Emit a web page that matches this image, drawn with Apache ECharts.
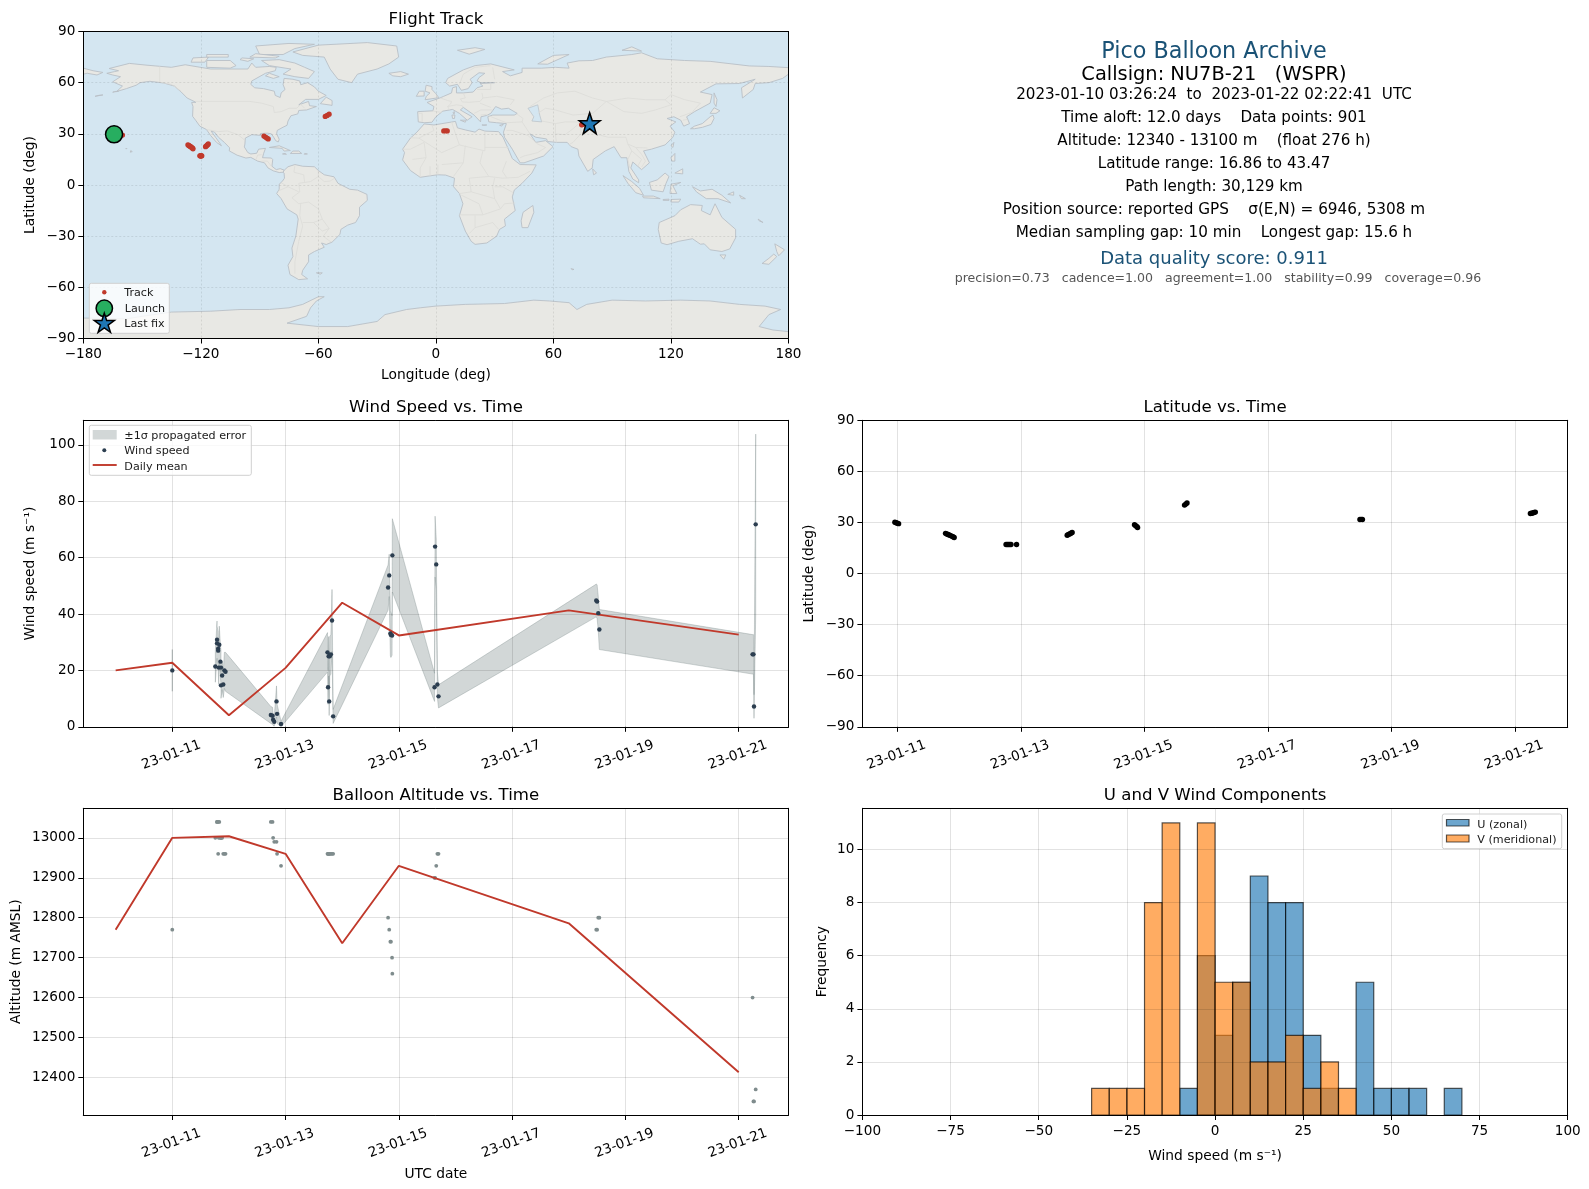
<!DOCTYPE html>
<html><head><meta charset="utf-8"><title>Pico Balloon Archive</title>
<style>html,body{margin:0;padding:0;background:#fff}#c{width:1589px;height:1189px}</style>
<script src="https://cdn.jsdelivr.net/npm/echarts@6/dist/echarts.min.js"></script></head>
<body><div id="c"></div>
<script>
// ---------- observations (day = day of January 2023) ----------
const windDays = [11.00,11.76,11.79,11.79,11.81,11.81,11.82,11.83,11.85,11.86,11.86,11.88,11.90,11.92,11.94,12.74,12.77,12.78,12.80,12.84,12.85,12.92,13.74,13.75,13.76,13.77,13.78,13.80,13.82,13.84,14.81,14.83,14.85,14.86,14.88,14.885,15.63,15.64,15.66,15.68,15.70,18.485,18.50,18.52,18.54,21.245,21.26,21.27,21.30];
const windSpeeds = [20.0,21.4,30.9,29.6,27.7,27.0,21.0,29.1,23.1,21.0,14.7,18.2,15.0,20.0,19.5,4.2,3.9,2.5,1.8,9.0,4.6,1.0,26.4,14.0,25.0,9.0,25.0,25.7,37.7,3.7,49.4,53.7,33.1,32.6,32.4,60.8,14.0,63.9,57.6,15.0,10.8,44.8,44.4,40.3,34.5,25.7,25.7,7.2,71.8];
const windSigmas = [7.4,5.6,6.6,6.0,6.2,6.2,6.0,6.6,5.8,6.0,4.6,5.0,4.6,6.4,6.9,3.0,3.0,2.0,1.6,5.5,3.4,1.0,7.0,6.0,7.0,5.0,7.0,7.0,11.0,2.5,8.0,7.5,8.0,8.0,7.0,13.0,5.0,10.8,9.0,4.5,4.1,5.8,6.0,6.0,7.1,7.0,7.0,4.2,32.0];
const altitudes = [12770,13000,13040,13040,13040,12960,13000,13040,13000,13000,13000,13000,12960,12960,12960,13040,13040,13000,12990,12990,12960,12930,12960,12960,12960,12960,12960,12960,12960,12960,12800,12770,12740,12740,12700,12660,12900,12900,12930,12960,12960,12770,12770,12800,12800,12600,12340,12340,12370];
const bandSegments = [[0,1],[1,49]];
const meanDays = [10,11,12,13,14,15,18,21];
const meanSpeeds = [20.0,22.7,4.1,20.9,44.0,32.4,41.3,32.7];
const meanAltitudes = [12770,13000,13004,12960,12736,12930,12786,12413];

const fixDays = [10.96,10.98,11.00,11.02, 11.78,11.80,11.82,11.84,11.86,11.88,11.90,11.92, 12.76,12.78,12.80,12.82,12.84,12.93, 13.75,13.77,13.79,13.81,13.83, 14.84,14.86,14.88,14.89, 15.65,15.67,15.69, 18.49,18.51,18.53, 21.25,21.27,21.29,21.31,21.33];
const fixLats = [30.1,29.8,29.5,29.3, 23.6,23.2,22.9,22.6,22.3,22.0,21.6,21.2, 17.1,17.1,17.1,17.1,17.1,17.1, 22.5,22.9,23.3,23.7,24.1, 28.7,28.1,27.5,27.0, 40.2,40.8,41.5, 31.7,31.8,31.7, 35.3,35.4,35.6,35.9,36.1];
const fixLons = [-163,-162,-161,-160, -126.6,-126.2,-125.8,-125.4,-125,-124.6,-124.2,-124, -120.5,-120.3,-120.1,-119.9,-119.7,-119.5, -117.6,-117.2,-116.8,-116.5,-116.2, -87.8,-87,-86.3,-85.6, -56.5,-55.5,-54.5, 4,5,5.8, 74.4,74.7,75,75.2,75.5];
const launchFix = [-164.3,29.7];
const lastFix = [78.5,36.2];

const binEdges = [-35,-30,-25,-20,-15,-10,-5,0,5,10,15,20,25,30,35,40,45,50,55,60,65,70];
const uCounts = [0,0,0,0,0,1,6,3,5,9,8,8,3,1,0,5,1,1,1,0,1];
const vCounts = [1,1,1,8,11,0,11,5,5,2,2,3,1,2,1,0,0,0,0,0,0];

const dateTicks = [11,13,15,17,19,21];
const dateLabels = ['23-01-11','23-01-13','23-01-15','23-01-17','23-01-19','23-01-21'];
const lonTicks = [-180,-120,-60,0,60,120,180];
const latTicks = [-90,-60,-30,0,30,60,90];
const speedTicks = [0,20,40,60,80,100];
const altitudeTicks = [12400,12500,12600,12700,12800,12900,13000];
const freqTicks = [0,2,4,6,8,10];
const histTicks = [-100,-75,-50,-25,0,25,50,75,100];

const infoLines = [
 ['Pico Balloon Archive',1214,52,22.3,'#1a5276'],
 ['Callsign: NU7B-21   (WSPR)',1214,74.5,19.4,'#000'],
 ['2023-01-10 03:26:24  to  2023-01-22 02:22:41  UTC',1214,95.5,15.15,'#000'],
 ['Time aloft: 12.0 days    Data points: 901',1214,118.5,15.15,'#000'],
 ['Altitude: 12340 - 13100 m    (float 276 h)',1214,141.5,15.15,'#000'],
 ['Latitude range: 16.86 to 43.47',1214,164.5,15.15,'#000'],
 ['Path length: 30,129 km',1214,187.5,15.15,'#000'],
 ['Position source: reported GPS    σ(E,N) = 6946, 5308 m',1214,210.5,15.25,'#000'],
 ['Median sampling gap: 10 min    Longest gap: 15.6 h',1214,233.5,15.2,'#000'],
 ['Data quality score: 0.911',1214,259,18,'#1a5276'],
 ['precision=0.73   cadence=1.00   agreement=1.00   stability=0.99   coverage=0.96',1218,279,12.55,'#555']
];

// ---------- coastlines (lon, lat) ----------
const landPolygons = [
 // North + Central America
 [[-168,65.5],[-164,66.5],[-162,67],[-166.8,68.3],[-156.5,71.3],[-148,70.3],[-135,69],[-128,70.5],[-115,68],[-108,68],[-96,68],[-94,71.5],[-92,69],[-85,69.5],[-81.5,69],[-82,67],[-87,65.5],[-94,61],[-94.5,59],[-92.5,57],[-88,56.5],[-82.5,55],[-82,52.5],[-79.5,51.3],[-79,54],[-77,56],[-78,58.8],[-77.5,62.5],[-73,62],[-69.5,61],[-69,58.8],[-65.5,60],[-62,57.5],[-60,55],[-56,52.5],[-60,50.2],[-66.5,50.2],[-70,47],[-65,49],[-64.5,46.5],[-61,46],[-66,44],[-70,43.7],[-70.5,41.7],[-74,40.6],[-75.5,37.5],[-76,35],[-78,33.9],[-81,32],[-81.3,30],[-80,26.8],[-80.5,25.2],[-81.8,26],[-82.8,28],[-84,30],[-86,30.4],[-89.5,30.2],[-89.5,29.1],[-94,29.5],[-97.3,27.5],[-97.5,24],[-97.8,22.3],[-96,19],[-94.5,18.2],[-91.5,18.6],[-90.5,21],[-87,21.5],[-88,18.3],[-88.5,16],[-84,15.8],[-83.3,14.9],[-83.7,11],[-81.5,9],[-79.5,9.6],[-77.4,8.7],[-78,7.5],[-80,7.3],[-83,8.3],[-85.7,10],[-87.5,13],[-91,14],[-94.5,16.2],[-97,15.8],[-101.5,17.5],[-105.5,20],[-105.3,21.8],[-108,25],[-111,28],[-113,31],[-114.8,31.7],[-112.5,28],[-110,24],[-109.5,23],[-112,25],[-115,29],[-117.1,32.5],[-120.5,34.5],[-122.5,37.7],[-124.2,40.3],[-124,46],[-124.7,48.4],[-122.5,48.5],[-127,51],[-130,54.5],[-133.5,58],[-139,59.8],[-146,60.8],[-151,60],[-153,58.5],[-158,56.5],[-163,54.8],[-160,58],[-165,60.5],[-161,63.5],[-165,64.5]],
 // Greenland and Arctic islands
 [[-73,78],[-60,82],[-35,83.5],[-20,81.5],[-19,75],[-24,71],[-30,68],[-40,65],[-43,60],[-50,62],[-54,68],[-57,75],[-68,76]],
 [[-80,73.5],[-72,71.5],[-67,69],[-62,66.5],[-65,62.5],[-72,63.5],[-78,65],[-74,68],[-85,70],[-89,73]],
 [[-117,69],[-105,68.5],[-102,70],[-105,73],[-117,73]],
 [[-90,76.5],[-78,76.5],[-72,80],[-62,82.5],[-75,83],[-92,81.5]],
 [[-125,72],[-118,72],[-116,75],[-124,74.5]],
 [[-95,75],[-82,74.5],[-80,75.5],[-92,77]],
 [[-117,75],[-106,75],[-106,76.5],[-117,76.5]],
 [[-100,73.5],[-96,72.5],[-93,74],[-99,74.5]],
 [[-85,65.5],[-80,63.5],[-83,62.5],[-87,64]],
 // Atlantic side islands
 [[-59,47.7],[-53,46.7],[-53,49.5],[-56,51.5]],
 [[-85,22],[-80,23],[-74.3,20.2],[-77.5,19.9],[-78.5,21.5]],
 [[-74.3,18.5],[-68.5,18.5],[-70,19.9],[-73,19.9]],
 [[-78.3,18.2],[-76.3,18],[-77,18.5]],
 [[-67.2,18],[-65.6,18.2],[-67,18.5]],
 [[-156,19.2],[-155,19.6],[-155.8,20.2]],[[-158.3,21.3],[-157.7,21.3],[-158,21.7]],
 [[-165,54.4],[-162,55],[-164,54.8]],[[-174,52],[-170,52.8],[-172,52.6]],
 [[-61,-51.5],[-58,-51.5],[-59,-52.3]],
 // South America
 [[-77.4,8.7],[-75.5,10.7],[-72,12],[-68,11],[-62,10.7],[-60,8.5],[-57,6],[-52,4.8],[-50,1],[-44,-2.5],[-40,-3],[-35.2,-5.5],[-35,-9],[-39,-13],[-39,-18],[-41,-22],[-45,-23.5],[-48.5,-26],[-49,-29],[-53,-33.5],[-56,-34.9],[-58.4,-34],[-57,-36.5],[-62,-39],[-65,-41],[-65,-45],[-68,-50],[-68.5,-52.5],[-65.5,-55],[-70,-55.5],[-74.5,-52.5],[-75.5,-47],[-73,-42],[-73.5,-37],[-71.5,-30],[-70.3,-20],[-71,-17.5],[-76,-14],[-79,-8],[-81.3,-5],[-80,-2.5],[-80,0.5],[-78.5,2],[-77.3,4],[-77.5,7],[-78,7.5]],
 // Africa
 [[-6,35.8],[-1,35.2],[10,37.3],[11,33.5],[15,32.3],[20,31],[22,32.8],[25,31.6],[32,31.3],[34.3,28],[37,21],[39,15.5],[43,12],[51.2,11.8],[49,7],[44,1],[40,-3],[39,-7],[40.5,-15],[35,-20],[35.5,-24],[32.5,-26],[31,-30],[26,-34],[20,-34.8],[18,-33],[15,-27],[12,-18],[13.8,-11],[12,-5],[9,-1],[9.5,4],[5,5.8],[1,6],[-4,5.2],[-8,4.5],[-13,8.5],[-17,14.7],[-16,19],[-17,21],[-13,27.5],[-9.7,31]],
 [[49.5,-12],[50,-16],[47,-25],[44,-25],[43.5,-21],[44.5,-16]],
 // Eurasia
 [[-9,37],[-9.3,43],[-1.5,43.5],[-1,46],[-4.5,48.4],[2,51],[4,52],[8,54],[8.5,57],[10.5,57.7],[10.5,54],[14,54],[19,54.5],[21,57],[24,58],[22.5,59.5],[30,60],[23,60],[21,61],[22,63],[25,65.5],[22,65.8],[17.5,62],[18.5,60],[16.5,56.5],[13,55.5],[11,59],[7,58],[5,60],[6,62.5],[14,67.5],[20,70],[28,71],[40,67.5],[34,66.5],[38,64],[44,66],[44,68.5],[54,68.5],[61,69],[68,68.5],[67,71.5],[73,72.8],[80,73],[87,75],[100,76.5],[105,77.5],[113,74],[127,73],[140,72.5],[160,69.8],[170,69.5],[180,68.8],[180,65],[177,62.5],[170,60],[163,59.5],[162,56],[156.5,51],[156,57],[163,62],[155,59.5],[143,59.3],[135,54.5],[141,53],[140,48],[132,43],[128,40],[129.5,36],[126.5,34.5],[125,38],[121.5,40],[118,39],[122.5,37],[119.5,34.5],[122,31],[121,28],[117,23.5],[110,21],[106,20],[109,13],[105,9],[100.5,13.5],[99.5,10],[103.5,3],[103.5,1.3],[100.5,3.5],[98.5,8],[97.5,16],[94.5,16],[91,22.5],[86.5,20],[80.3,15],[79.8,10],[77.5,8],[73,17],[72.5,21],[69,22.5],[67,25],[61.5,25],[57,25.5],[56.5,27],[51,28],[48,30],[51,25],[56,26],[59.8,22.5],[55,17],[45,13],[43,13],[39,21],[35,28],[34.5,31],[36,36],[31,36.5],[27,37],[26.5,40],[29,41],[40,41],[41.5,42],[37,45],[33.5,44.5],[30.5,46],[28,42],[26,40.8],[23,40],[22.8,37],[19.5,41],[14,45.5],[12.5,44],[18.5,40],[16,38],[12,42],[8.5,44.3],[3.5,43.3],[0,40],[-2,36.8],[-6,36.5]],
 [[-180,68.5],[-175,67],[-170,66],[-173,64.5],[-178,65.5],[-180,65]],
 // Asia-Pacific islands
 [[142,54],[143.5,50],[143,46],[142,48],[142,53]],
 [[130,33],[132,34.5],[136,36],[140,40],[141.5,41],[142,39],[140.5,35.5],[136,33.8],[132,33]],
 [[140,42],[142,45.3],[145,43.5],[143,42]],
 [[120,23],[121.5,25],[121,22]],
 [[120,16],[122,18.5],[122,14],[120.5,14]],[[122,7],[126,9.5],[126,6.5]],
 [[109,1.5],[113,3],[117,7],[119,5],[117.5,1],[116,-4],[110,-3]],
 [[95.5,5.5],[100,2],[104,-2],[106,-6],[102,-4.5],[98,1]],
 [[105.5,-6.5],[111,-6.5],[114.5,-8],[106,-7.5]],
 [[119.5,-5],[120,0.5],[125,1.5],[121,-0.5],[123,-5]],
 [[116,-8.5],[119,-8.3],[119,-9],[116,-9]],[[120,-8.5],[125,-8.3],[124,-10],[120,-10]],
 [[131,-1],[135,-3.5],[141,-2.5],[146,-6],[150.5,-10.5],[144,-8],[138,-8],[133,-4]],
 [[149,-5.5],[152,-4],[152,-6]],[[155,-6],[158,-8],[156,-8]],[[165,-21],[167,-22],[164.5,-20]],
 [[114,-22],[122,-18],[125,-14.5],[130,-11.5],[136,-12],[135.5,-15],[140,-17.5],[142.5,-11],[146,-19],[153,-26],[153,-31],[150,-37.5],[146,-39],[140,-38],[137,-34.5],[135,-34.7],[131,-31.5],[124,-33],[118,-35],[115,-34],[113.5,-26]],
 [[145,-41],[148,-41],[147,-43.5]],
 [[173,-34.5],[178,-38],[175,-41.5],[174,-39]],[[172.5,-40.5],[174,-42],[170,-46.5],[166.5,-46],[170,-43]],
 [[80,9.5],[82,7],[80.5,6]],
 [[69,-49],[70.5,-49.5],[69.5,-49.7]],
 // Europe islands and Arctic
 [[-24,65.5],[-18,66.5],[-14,65],[-18,63.5],[-22,64]],
 [[-5.5,50],[1.5,51.2],[0,53.5],[-2,56],[-2,57.7],[-5,58.5],[-5.5,55],[-3,54],[-4.5,52.5],[-5,51.7]],
 [[-10,52],[-6,52.2],[-6,55],[-8.5,55]],
 [[11,79],[20,80.5],[25,79.5],[17,76.7]],
 [[52,71],[57,70.8],[68,76.5],[60,76]],
 [[95,79],[105,78.5],[100,81]],
 [[12.5,38],[15.5,38],[15,36.8]],[[8.2,41],[9.7,41],[9.5,39],[8.5,39]],[[8.7,42.5],[9.5,43],[9.3,41.5]],[[32.5,35],[34.5,35.6],[33.5,34.6]],[[23.5,35.2],[26,35.2],[24.5,35]],
 // Antarctica
 [[-180,-90],[-180,-78],[-158,-78.5],[-150,-77],[-135,-74.5],[-115,-74],[-100,-73],[-85,-73],[-75,-72],[-68,-70],[-60,-65.5],[-57,-65.5],[-61,-68],[-64,-72],[-66,-77],[-76,-81],[-60,-83],[-45,-83],[-30,-80],[-26,-76],[-15,-73],[-8,-72],[0,-71],[15,-70],[35,-69.5],[50,-67.5],[58,-68],[68,-69],[72,-73],[77,-70],[90,-67.5],[107,-68],[125,-67.5],[140,-68],[155,-70],[168,-71],[176,-73],[170,-76],[165,-83],[172,-85],[180,-86],[180,-90]]
];
const oceanPolygons = [[[47,45],[52,47],[53,41],[54,37],[49,37.5],[50,40]]];
const borderLines = [
 [[-123,49],[-95,49],[-89,48],[-83,46],[-82.5,42.5],[-79,43],[-75,45],[-71,45],[-69,47.3],[-67,45]],[[-141,69.6],[-141,60.3],[-135,59],[-130,55]],
 [[-117,32.5],[-111,31.3],[-106.5,31.7],[-101,29.5],[-97.3,26]],[[-92,14.5],[-91,17.5],[-89,17.8]],[[-89,14],[-86,14],[-84,11]],
 [[-72,11.5],[-72.5,7.5],[-67.5,6],[-67,1.5]],[[-60,8],[-60,5],[-57,2],[-54,2.3],[-51.7,4]],[[-60,5],[-64,2],[-70,1],[-69.5,-4],[-73.5,-7.5],[-70,-11],[-65,-10],[-60,-14],[-58,-20],[-54.5,-25.5],[-57.5,-30],[-53.5,-33.5]],[[-69.5,-18],[-68,-24],[-70,-33],[-72,-45],[-72,-52]],[[-68,-22],[-62.5,-22],[-58,-20]],[[-62.5,-22],[-58,-27],[-54.5,-25.5]],[[-69,-11],[-69.5,-18]],[[-80.3,-3.4],[-75.5,-1],[-79,1.3]],[[-75.5,-1],[-70,-4]],
 [[-13,27.7],[-8.7,27.5],[-1,32],[-2,35]],[[-8.7,27.5],[3,19],[12,23.5],[10,30],[8,37]],[[12,23.5],[25,20],[25,31.6]],[[25,22],[37,22]],[[24,20],[22.5,13],[27,5],[34,4],[42,4.5],[48,8]],[[-17,21],[-13,21],[-6,25],[-5,16],[-12,15]],[[3,12],[14,13],[15,23]],[[14,13],[9,5]],[[12,-5],[18,-4],[30,-8],[29,-1],[30,4]],[[18,-4],[17,4],[27,5]],[[12,-17.5],[24,-17.5],[22,-11],[13,-6]],[[24,-17.5],[33,-14],[30,-8]],[[17,-28.5],[20,-25],[29,-22],[32,-26]],[[20,-25],[20,-18]],[[33,-14],[35,-11],[40.5,-10.5]],[[30,-1],[34,-1],[39.5,-4.5]],[[36,14],[34,8],[36,4.5]],[[-8,4.5],[-8,10],[-5,16]],[[-3,5],[-3,11]],[[1,6],[1,12]],
 [[-1.8,43.4],[3,42.5]],[[-9,42],[-7,42],[-7,37]],[[2.5,51],[6,49.5],[8,49],[7.5,47.5],[6,46],[7,44]],[[6,46],[10.5,47],[13.5,46.5],[13.7,45.6]],[[14,54],[15,51],[12.5,50.5],[13.5,48.7],[17,48.5],[22.5,49],[24,51],[23.5,54]],[[22.5,48],[28,45.5]],[[24,51],[31,52],[40,50],[38,47]],[[21,56],[28,56],[28,59.5]],[[19.5,42],[23,44],[29,44]],[[22.8,41],[26,41.5]],[[12,59],[14,65],[20,69],[28,70]],[[30,62],[29,69]],
 [[48,46],[55,51],[62,54],[71,55],[80,51],[87,49]],[[87,49],[98,51],[107,50],[117,50],[120,53],[127,50],[135,48],[131,43]],[[87,49],[96,43],[105,42],[112,44],[120,47],[117,50]],[[52,42],[56,45],[61,44],[70,41],[80,42],[87,49]],[[74,37],[79,32],[81,30],[88,28],[97,28],[98,24],[102,22],[108,21.7]],[[74,37],[74,30],[70,25],[68,23.7]],[[54,37.5],[61,36],[61,30],[61.5,25]],[[61,36],[66,37],[74,37]],[[61,30],[66,29.5],[70,33],[74,37]],[[36,32],[39,32],[47,29],[52,24],[56,22],[52,19],[45,17],[43,16]],[[26,41],[36,36.5],[44,37],[44.5,39],[41.5,41.5]],[[44,37],[48,30]],[[98,24],[100,20],[98,15],[99,10]],[[102,22],[105,18],[107,14],[105,10.5]],[[100,20],[105,15],[103,11]],[[124.5,40],[130.5,42.5]],[[126,38],[128.5,38.5]]
];

// ---------- layout ----------
const FONT = '"DejaVu Sans"';
const BLACK = '#000';
const RED = '#c0392b', NAVY = '#2c3e50', GREY = '#7f8c8d';
const gridRects = [
 [83.3,31.5,788.5,338.5],
 [83.3,420.3,788.5,726.8],
 [862.4,420.3,1567.7,726.8],
 [83.3,808.3,788.5,1115],
 [862.4,808.3,1567.7,1115]
];
const grids = gridRects.map(r=>({left:r[0],top:r[1],width:r[2]-r[0],height:r[3]-r[1],containLabel:false,show:false}));

function lineOf(){return {show:true,onZero:false,lineStyle:{color:BLACK,width:1}};}
function xAxis(i,o){
  const custom = o.ticks;
  return {type:'value',gridIndex:i,min:o.min,max:o.max,z:10,position:'bottom',
    axisLine:lineOf(),axisTick:{show:true,length:5,lineStyle:{color:BLACK,width:1},customValues:custom},
    axisLabel:{show:true,color:BLACK,fontFamily:FONT,fontSize:13.6,margin:o.margin||9,customValues:custom,rotate:o.rotate||0,
      align:'center',verticalAlign:o.rotate?'middle':'top',hideOverlap:false,showMinLabel:true,showMaxLabel:true,padding:o.rotate?[0,2,0,0]:0,
      formatter:o.fmt||(v=>String(v).replace('-','−'))},
    splitLine:{show:true,lineStyle:{color:o.gridColor||'rgba(0,0,0,0.115)',width:1,type:o.dash||'solid'}},
    name:o.name||'',nameLocation:'middle',nameGap:o.nameGap||30,nameMoveOverlap:false,
    nameTextStyle:{color:BLACK,fontFamily:FONT,fontSize:13.8,verticalAlign:'middle'}};
}
function yAxis(i,o){
  const custom = o.ticks;
  return {type:'value',gridIndex:i,min:o.min,max:o.max,z:10,position:'left',
    axisLine:lineOf(),axisTick:{show:true,length:5,lineStyle:{color:BLACK,width:1},customValues:custom},
    axisLabel:{show:true,color:BLACK,fontFamily:FONT,fontSize:13.6,margin:8,customValues:custom,hideOverlap:false,showMinLabel:true,showMaxLabel:true,padding:[5,0,0,0],
      formatter:o.fmt||(v=>String(v).replace('-','−'))},
    splitLine:{show:true,lineStyle:{color:o.gridColor||'rgba(0,0,0,0.115)',width:1,type:o.dash||'solid'}},
    name:o.name||'',nameLocation:'middle',nameGap:o.nameGap||50,nameRotate:90,nameMoveOverlap:false,
    nameTextStyle:{color:BLACK,fontFamily:FONT,fontSize:13.8,verticalAlign:'middle',align:'center'}};
}
const dateFmt = v => dateLabels[dateTicks.indexOf(v)] || '';
const xAxes = [
 xAxis(0,{min:-180,max:180,ticks:lonTicks,name:'Longitude (deg)',nameGap:37,dash:[2,2],gridColor:'rgba(0,0,0,0.09)'}),
 xAxis(1,{min:9.429,max:21.879,ticks:dateTicks,fmt:dateFmt,rotate:20,margin:28}),
 xAxis(2,{min:10.434,max:21.854,ticks:dateTicks,fmt:dateFmt,rotate:20,margin:28}),
 xAxis(3,{min:9.429,max:21.879,ticks:dateTicks,fmt:dateFmt,rotate:20,margin:28,name:'UTC date',nameGap:59}),
 xAxis(4,{min:-100,max:100,ticks:histTicks,name:'Wind speed (m s⁻¹)',nameGap:41})
];
const yAxes = [
 yAxis(0,{min:-90,max:90,ticks:latTicks,name:'Latitude (deg)',nameGap:53,dash:[2,2],gridColor:'rgba(0,0,0,0.09)'}),
 yAxis(1,{min:0,max:108.7,ticks:speedTicks,name:'Wind speed (m s⁻¹)',nameGap:53}),
 yAxis(2,{min:-90,max:90,ticks:latTicks,name:'Latitude (deg)',nameGap:53}),
 yAxis(3,{min:12306,max:13074,ticks:altitudeTicks,name:'Altitude (m AMSL)',nameGap:67}),
 yAxis(4,{min:0,max:11.55,ticks:freqTicks,name:'Frequency',nameGap:40})
];
// Frame: top and right spines
gridRects.forEach((r,i)=>{
  xAxes.push({type:'value',gridIndex:i,position:'top',min:0,max:1,z:10,axisLine:lineOf(),axisTick:{show:false},axisLabel:{show:false},splitLine:{show:false}});
  yAxes.push({type:'value',gridIndex:i,position:'right',min:0,max:1,z:10,axisLine:lineOf(),axisTick:{show:false},axisLabel:{show:false},splitLine:{show:false}});
});

const titleData = [['Flight Track',0,20],['Wind Speed vs. Time',1,21.5],['Latitude vs. Time',2,21.5],['Balloon Altitude vs. Time',3,21],['U and V Wind Components',4,21]];
const titles = titleData.map(([t,i,up])=>({text:t,left:(gridRects[i][0]+gridRects[i][2])/2,top:gridRects[i][1]-up,textAlign:'center',
  textStyle:{fontFamily:FONT,fontSize:16.6,fontWeight:'normal',color:BLACK},padding:0}));

function polySeries(name,data,style,z){
  return {type:'custom',name,xAxisIndex:0,yAxisIndex:0,coordinateSystem:'cartesian2d',clip:true,z,silent:true,
    data:data.map((_,i)=>[i]),encode:{x:0,y:0},
    renderItem:(p,api)=>({type:'polygon',shape:{points:data[p.dataIndex].map(c=>api.coord(c))},style})};
}
function histSeries(counts,fill,stroke,z){
  return {type:'custom',xAxisIndex:4,yAxisIndex:4,clip:true,z,silent:true,
    data:counts.map((c,i)=>[binEdges[i],binEdges[i+1],c]).filter(d=>d[2]>0),encode:{x:[0,1],y:2},
    renderItem:(p,api)=>{
      const a=api.coord([api.value(0),0]),b=api.coord([api.value(1),api.value(2)]);
      return {type:'rect',shape:{x:a[0],y:b[1],width:b[0]-a[0],height:a[1]-b[1]},style:{fill,stroke,lineWidth:1.2}};
    }};
}
const bandUpper = windDays.map((d,i)=>[d,windSpeeds[i]+windSigmas[i]]);
const bandLower = windDays.map((d,i)=>[d,Math.max(0,windSpeeds[i]-windSigmas[i])]);

const series = [
 polySeries('Land',landPolygons,{fill:'#e8e8e4',stroke:'#b9c0c6',lineWidth:0.9},2),
 polySeries('Lakes',oceanPolygons,{fill:'#d4e6f1',stroke:'#b9c0c6',lineWidth:0.7},3),
 {type:'custom',name:'Borders',xAxisIndex:0,yAxisIndex:0,clip:true,z:3,silent:true,data:borderLines.map((_,i)=>[i]),encode:{x:0,y:0},
  renderItem:(p,api)=>({type:'polyline',shape:{points:borderLines[p.dataIndex].map(c=>api.coord(c))},style:{stroke:'#dcdcd8',fill:null,lineWidth:0.8}})},
 {type:'scatter',name:'Track',xAxisIndex:0,yAxisIndex:0,z:12,symbolSize:5.2,itemStyle:{color:RED,opacity:1},data:fixLons.map((x,i)=>[x,fixLats[i]])},
 {type:'scatter',name:'Launch',xAxisIndex:0,yAxisIndex:0,z:13,symbolSize:17,itemStyle:{color:'#27ae60',borderColor:BLACK,borderWidth:1.5,opacity:1},data:[launchFix]},
 {type:'scatter',name:'Last fix',xAxisIndex:0,yAxisIndex:0,z:13,symbol:'path://M0,-10 L2.35,-3.09 L9.51,-3.09 L3.8,1.18 L5.88,8.09 L0,3.82 L-5.88,8.09 L-3.8,1.18 L-9.51,-3.09 L-2.35,-3.09 Z',symbolSize:21,itemStyle:{color:'#1f77b4',borderColor:BLACK,borderWidth:1.5,opacity:1},data:[lastFix]},

 {type:'custom',name:'±1σ propagated error',xAxisIndex:1,yAxisIndex:1,clip:true,z:3,silent:true,data:bandSegments.map((_,i)=>[i]),encode:{x:0,y:0},
  renderItem:(p,api)=>{
    const seg=bandSegments[p.dataIndex];
    const up=bandUpper.slice(seg[0],seg[1]),lo=bandLower.slice(seg[0],seg[1]).reverse();
    return {type:'polygon',shape:{points:up.concat(lo).map(c=>api.coord(c))},style:{fill:'rgba(127,140,141,0.35)',stroke:'rgba(127,140,141,0.35)',lineWidth:1}};
  }},
 {type:'line',name:'Daily mean',xAxisIndex:1,yAxisIndex:1,z:12,showSymbol:false,symbol:'none',lineStyle:{color:RED,width:1.9},data:meanDays.map((d,i)=>[d,meanSpeeds[i]])},
 {type:'scatter',name:'Wind speed',xAxisIndex:1,yAxisIndex:1,z:13,symbolSize:4.4,itemStyle:{color:NAVY,opacity:1},data:windDays.map((d,i)=>[d,windSpeeds[i]])},

 {type:'scatter',name:'Latitude',xAxisIndex:2,yAxisIndex:2,z:12,symbolSize:5.4,itemStyle:{color:BLACK,opacity:1},data:fixDays.map((d,i)=>[d,fixLats[i]])},

 {type:'line',name:'Daily mean altitude',xAxisIndex:3,yAxisIndex:3,z:12,showSymbol:false,symbol:'none',lineStyle:{color:RED,width:1.9},data:meanDays.map((d,i)=>[d,meanAltitudes[i]])},
 {type:'scatter',name:'Altitude',xAxisIndex:3,yAxisIndex:3,z:11,symbolSize:3.8,itemStyle:{color:GREY,opacity:1},data:windDays.map((d,i)=>[d,altitudes[i]])},

 histSeries(uCounts,'rgba(31,119,180,0.65)','rgba(0,0,0,0.65)',3),
 histSeries(vCounts,'rgba(255,127,14,0.65)','rgba(0,0,0,0.65)',4)
];

// ---------- legends and text panel ----------
const legendBox = {fill:'rgba(255,255,255,0.8)',stroke:'#d0d0d0',lineWidth:1};
const legText = (t,x,y)=>({type:'text',z:101,style:{text:t,x,y,textVerticalAlign:'middle',font:'11.15px '+FONT,fill:'#1a1a1a'}});
const starPoints = (cx,cy,R)=>{const pts=[];for(let k=0;k<10;k++){const r=k%2?R*0.382:R,a=-Math.PI/2+k*Math.PI/5;pts.push([cx+r*Math.cos(a),cy+r*Math.sin(a)]);}return pts;};
const graphic = [];
const box=(x1,y1,x2,y2)=>graphic.push({type:'rect',z:100,shape:{x:x1,y:y1,width:x2-x1,height:y2-y1,r:2},style:legendBox});
// map legend
box(89.3,283.3,169.3,333.3);
graphic.push({type:'circle',z:101,shape:{cx:104.3,cy:292.3,r:2.2},style:{fill:RED}});
graphic.push({type:'circle',z:101,shape:{cx:104.3,cy:308.3,r:8.2},style:{fill:'#27ae60',stroke:BLACK,lineWidth:1.5}});
graphic.push({type:'polygon',z:102,shape:{points:starPoints(104.3,323.8,10.5)},style:{fill:'#1f77b4',stroke:BLACK,lineWidth:1.5}});
graphic.push(legText('Track',124.3,293),legText('Launch',124.8,309),legText('Last fix',124.3,324));
// wind legend
box(89.3,425.3,251.3,475.3);
graphic.push({type:'rect',z:101,shape:{x:92.7,y:430,width:24,height:9.5},style:{fill:'rgba(127,140,141,0.35)'}});
graphic.push({type:'circle',z:101,shape:{cx:104.3,cy:450.3,r:2},style:{fill:NAVY}});
graphic.push({type:'line',z:101,shape:{x1:92.7,y1:465,x2:116.7,y2:465},style:{stroke:RED,lineWidth:1.9}});
graphic.push(legText('±1σ propagated error',124.3,436.2),legText('Wind speed',124.3,451.2),legText('Daily mean',124.3,467));
// histogram legend
box(1442.3,814,1561.7,848.7);
graphic.push({type:'rect',z:101,shape:{x:1446.5,y:819.5,width:22.5,height:6.5},style:{fill:'rgba(31,119,180,0.65)',stroke:'rgba(0,0,0,0.65)',lineWidth:1.2}});
graphic.push({type:'rect',z:101,shape:{x:1446.5,y:835,width:22.5,height:7},style:{fill:'rgba(255,127,14,0.65)',stroke:'rgba(0,0,0,0.65)',lineWidth:1.2}});
graphic.push(legText('U (zonal)',1477.3,825),legText('V (meridional)',1477.3,840));
// info panel
infoLines.forEach(([t,x,y,size,fill])=>graphic.push({type:'text',z:50,style:{text:t,x,y,textAlign:'center',textVerticalAlign:'middle',font:size+'px '+FONT,fill}}));

const chart = echarts.init(document.getElementById('c'),null,{renderer:'canvas',width:1589,height:1189});
chart.setOption({
  animation:false,backgroundColor:'#fff',textStyle:{fontFamily:FONT},
  title:titles,grid:grids,xAxis:xAxes,yAxis:yAxes,series,graphic
});
// ocean fill is the map grid's background
chart.setOption({grid:grids.map((g,i)=>i===0?{show:true,backgroundColor:'#d4e6f1',borderWidth:0}:{})});
</script></body></html>
